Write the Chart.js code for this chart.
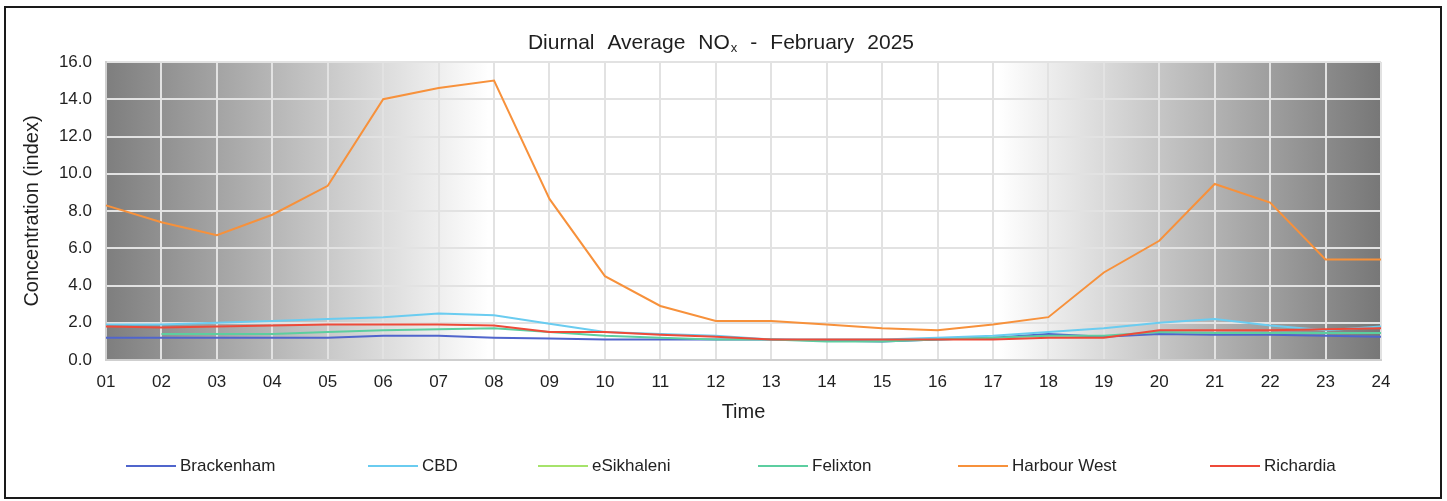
<!DOCTYPE html>
<html>
<head>
<meta charset="utf-8">
<title>Diurnal Average NOx - February 2025</title>
<script src="https://cdn.jsdelivr.net/npm/chart.js"></script>
<style>
  html, body { margin: 0; padding: 0; background: #fff; }
  #wrap { position: relative; width: 1447px; height: 501px; overflow: hidden; font-family: "Liberation Sans", Arial, sans-serif; }
  #frame { position: absolute; left: 4px; top: 6px; width: 1438px; height: 493px; border: 2px solid #1a1a1a; box-sizing: border-box; }
  #chart { position: absolute; left: 0; top: 0; }
  #legend { position: absolute; left: 0; top: 455px; width: 1447px; height: 22px; }
  .item { position: absolute; top: 0; height: 22px; font-size: 17px; color: #222; line-height: 22px; white-space: nowrap; }
  .item .ln { position: absolute; left: 0; top: 10px; width: 50px; height: 2px; }
  .item .tx { position: absolute; left: 54px; top: 0; }
</style>
</head>
<body>
<div id="wrap">
  <div id="frame"></div>
  <canvas id="chart" width="1447" height="501"></canvas>
  <div id="legend"></div>
</div>
<script>
// Hour of day labels
const hours = ['01', '02', '03', '04', '05', '06', '07', '08', '09', '10', '11', '12',
               '13', '14', '15', '16', '17', '18', '19', '20', '21', '22', '23', '24'];

// Hourly averages (index)
const brackenham  = [1.2, 1.2, 1.2, 1.2, 1.2, 1.3, 1.3, 1.2, 1.15, 1.1, 1.1, 1.1, 1.1, 1.05, 1.0, 1.1, 1.2, 1.4, 1.25, 1.4, 1.35, 1.35, 1.3, 1.25];
const cbd         = [1.9, 1.9, 2.0, 2.1, 2.2, 2.3, 2.5, 2.4, 1.95, 1.5, 1.4, 1.3, 1.1, 1.1, 1.1, 1.2, 1.3, 1.5, 1.7, 2.0, 2.2, 1.85, 1.6, 1.8];
const eSikhaleni  = [null, null, null, null, null, null, null, null, null, null, null, null,
                     null, null, null, null, null, null, null, null, null, null, null, null];
const felixton    = [null, 1.4, 1.4, 1.4, 1.5, 1.6, 1.65, 1.7, 1.5, 1.3, 1.2, 1.1, 1.1, 1.0, 1.0, 1.1, 1.2, 1.3, 1.3, 1.5, 1.45, 1.45, 1.45, 1.45];
const harbourWest = [8.3, 7.4, 6.7, 7.8, 9.35, 14.0, 14.6, 15.0, 8.65, 4.5, 2.9, 2.1, 2.1, 1.9, 1.7, 1.6, 1.9, 2.3, 4.7, 6.4, 9.45, 8.45, 5.4, 5.4];
const richardia   = [1.8, 1.75, 1.8, 1.85, 1.9, 1.9, 1.9, 1.85, 1.5, 1.5, 1.35, 1.25, 1.1, 1.1, 1.1, 1.1, 1.1, 1.2, 1.2, 1.6, 1.6, 1.6, 1.65, 1.7];

const seriesNames  = ['Brackenham', 'CBD', 'eSikhaleni', 'Felixton', 'Harbour West', 'Richardia'];
const seriesValues = [brackenham, cbd, eSikhaleni, felixton, harbourWest, richardia];
const seriesColors = ['#5065cc', '#6accf0', '#a6e36b', '#5ccea0', '#f7913b', '#ee4a39'];

const yTicks = [0, 2, 4, 6, 8, 10, 12, 14, 16];

// Grey "night" shading behind the plot
const shadePlugin = {
    id: 'shade',
    beforeDraw(chart) {
        const { ctx, chartArea: a } = chart;
        const g = ctx.createLinearGradient(a.left, 0, a.right, 0);
        g.addColorStop(0, '#7e7e7e');
        g.addColorStop(0.30, '#ffffff');
        g.addColorStop(0.70, '#ffffff');
        g.addColorStop(1, '#777777');
        ctx.save();
        ctx.fillStyle = g;
        ctx.fillRect(a.left, a.top, a.right - a.left, a.bottom - a.top);
        ctx.restore();
    }
};

// Title with subscript x, words spread the way the spreadsheet does it
const titlePlugin = {
    id: 'subTitle',
    afterDraw(chart) {
        const ctx = chart.ctx;
        const base = 49;
        const big = '21px "Liberation Sans", Arial';
        const small = '13px "Liberation Sans", Arial';
        const words = [['Diurnal'], ['Average'], ['NO', 'x'], ['-'], ['February'], ['2025']];
        ctx.save();
        ctx.fillStyle = '#1f1f1f';
        ctx.textBaseline = 'alphabetic';
        ctx.textAlign = 'left';
        const widths = words.map(w => {
            ctx.font = big;
            let wd = ctx.measureText(w[0]).width;
            if (w[1]) { ctx.font = small; wd += 1 + ctx.measureText(w[1]).width; }
            return wd;
        });
        const gap = 13;
        const total = widths.reduce((s, v) => s + v, 0) + gap * (words.length - 1);
        let x = 721 - total / 2;
        words.forEach((w, i) => {
            ctx.font = big;
            ctx.fillText(w[0], x, base);
            if (w[1]) {
                const wx = x + ctx.measureText(w[0]).width + 1;
                ctx.font = small;
                ctx.fillText(w[1], wx, base + 3);
            }
            x += widths[i] + gap;
        });
        ctx.restore();
    }
};

const ctx = document.getElementById('chart').getContext('2d');
const chart = new Chart(ctx, {
    type: 'line',
    data: {
        labels: hours,
        datasets: seriesNames.map((name, i) => ({
            label: name,
            data: seriesValues[i],
            borderColor: seriesColors[i],
            backgroundColor: seriesColors[i],
            borderWidth: 2,
            pointRadius: 0,
            tension: 0,
            order: seriesNames.length - i
        }))
    },
    options: {
        responsive: false,
        animation: false,
        layout: { padding: { top: 62, right: 66, bottom: 0, left: 0 } },
        plugins: {
            legend: { display: false },
            title: { display: false },
            tooltip: { enabled: false }
        },
        scales: {
            x: {
                offset: false,
                grid: { color: '#e2e2e2', lineWidth: 2, drawTicks: false },
                border: { color: '#cfcfcf', width: 2 },
                ticks: { color: '#1f1f1f', padding: 12, maxRotation: 0, autoSkip: false,
                         font: { family: '"Liberation Sans", Arial', size: 17 } },
                title: { display: true, text: 'Time', color: '#1f1f1f',
                         font: { family: '"Liberation Sans", Arial', size: 20 },
                         padding: { top: 0, bottom: 77 } },
                afterFit: s => { s.height = 141; }
            },
            y: {
                min: 0,
                max: 16,
                afterBuildTicks: s => { s.ticks = yTicks.map(v => ({ value: v })); },
                grid: { color: '#e2e2e2', lineWidth: 2, drawTicks: false },
                border: { color: '#cfcfcf', width: 2 },
                ticks: { color: '#1f1f1f', padding: 14,
                         font: { family: '"Liberation Sans", Arial', size: 17 },
                         callback: v => Number(v).toFixed(1) },
                title: { display: true, text: 'Concentration (index)', color: '#1f1f1f',
                         font: { family: '"Liberation Sans", Arial', size: 20 },
                         padding: { top: 20, bottom: 0 } },
                afterFit: s => { s.width = 106; }
            }
        }
    },
    plugins: [shadePlugin, titlePlugin]
});

// Legend laid out like the spreadsheet's, built from the chart's datasets
const legendX = [126, 368, 538, 758, 958, 1210];
const legendEl = document.getElementById('legend');
chart.data.datasets.forEach((ds, i) => {
    const item = document.createElement('div');
    item.className = 'item';
    item.style.left = legendX[i] + 'px';
    item.innerHTML = `<span class="ln" style="background:${ds.borderColor}"></span><span class="tx">${ds.label}</span>`;
    legendEl.appendChild(item);
});
</script>
</body>
</html>
